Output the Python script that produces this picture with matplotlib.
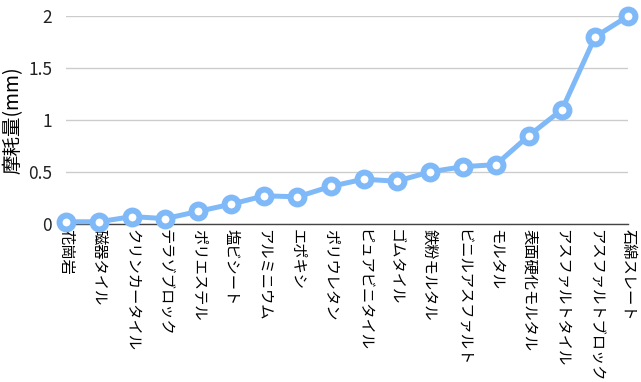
import matplotlib.pyplot as plt

plt.rcParams['font.family'] = ['Noto Sans CJK JP', 'DejaVu Sans']

materials = ['花崗岩', '磁器タイル', 'クリンカータイル', 'テラゾブロック', 'ポリエステル',
             '塩ビシート', 'アルミニウム', 'エポキシ', 'ポリウレタン', 'ピュアビニタイル',
             'ゴムタイル', '鉄粉モルタル', 'ビニルアスファルト', 'モルタル', '表面硬化モルタル',
             'アスファルトタイル', 'アスファルトブロック', '石綿スレート']
wear = [0.02, 0.02, 0.07, 0.05, 0.12, 0.19, 0.27, 0.26, 0.36, 0.43,
        0.41, 0.50, 0.55, 0.57, 0.85, 1.1, 1.8, 2.0]
yticks = [0, 0.5, 1, 1.5, 2]
ytick_labels = ['0', '0.5', '1', '1.5', '2']

fig = plt.figure(figsize=(6.41, 3.82), dpi=100)
ax = fig.add_axes([0.103, 0.414, 0.877, 0.544])

x = list(range(len(materials)))
ax.plot(x, wear, color='#80b9f8', lw=3.6, marker='o', ms=10, mew=4.3,
        mfc='white', mec='#80b9f8', clip_on=False, zorder=3)

ax.set_xlim(0, len(materials) - 1)
ax.set_ylim(0, 2)
ax.set_yticks(yticks)
ax.set_yticklabels(ytick_labels, fontsize=12.5, color='#222222')
ax.set_xticks(x)
ax.set_xticklabels(materials, rotation=270, fontsize=11, va='top', ha='center')
ax.tick_params(axis='y', length=0, pad=10)
ax.tick_params(axis='x', length=0, pad=4)
ax.grid(axis='y', color='#cccccc', lw=1)
ax.set_axisbelow(True)
for s in ['left', 'right', 'top']:
    ax.spines[s].set_visible(False)
ax.spines['bottom'].set_color('#444444')
ax.spines['bottom'].set_linewidth(1)
ax.set_ylabel('摩耗量(mm)', fontsize=14, labelpad=3)

fig.savefig('out.png', dpi=100)
